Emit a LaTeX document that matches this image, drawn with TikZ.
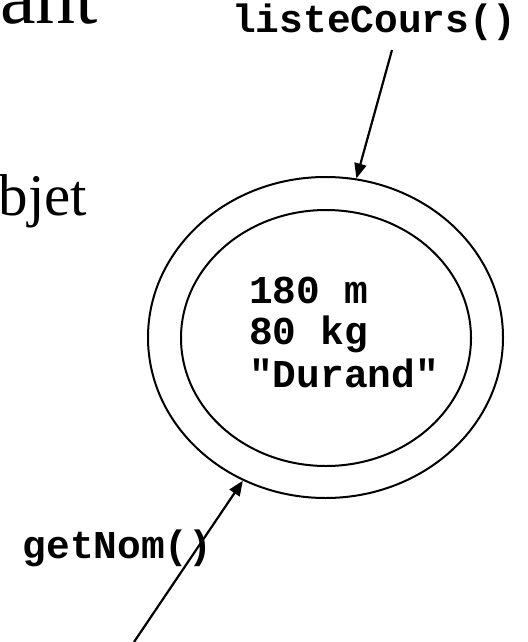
\documentclass[tikz,border=0pt]{standalone}
\usepackage{fontspec}
\setmainfont{Liberation Serif}
\newfontfamily\courfont{Liberation Mono}
\usetikzlibrary{arrows.meta,shapes.geometric}
\begin{document}
\begin{tikzpicture}[x=1pt,y=-1pt,
  code/.style={font=\courfont\bfseries\fontsize{39.5}{42}\selectfont, inner sep=0pt, anchor=base west},
  slide/.style={inner sep=0pt},
  ring/.style={draw, ellipse, line width=2pt, inner sep=0pt},
  call/.style={line width=2.2pt, -{Triangle[length=15pt,width=12pt]}}]
\useasboundingbox (0,0) rectangle (527,642);
\clip (0,0) rectangle (527,642);
% clipped slide text
\node[slide, anchor=base east, font=\fontsize{80}{86}\selectfont] (ant) at (98,24) {ant};
\node[slide, anchor=base west, font=\fontsize{59}{64}\selectfont] (bjet) at (-1.5,215) {bjet};
% object
\node[ring, minimum width=355pt, minimum height=321pt] (outer) at (325.5,337.5) {};
\node[ring, minimum width=290pt, minimum height=256pt] (inner) at (326,338) {};
\node[code] (d1) at (249,303) {180 m};
\node[code] (d2) at (249,344.5) {80 kg};
\node[code] (d3) at (249,387) {"Durand"};
% messages
\node[code] (lc) at (232,33) {listeCours()};
\node[code] (gn) at (22.5,558) {getNom()};
\coordinate (lcfrom) at (392,50);
\coordinate (gnfrom) at (134,642);
\draw[call] (lcfrom) -- (outer.79);
\draw[call] (gnfrom) -- (outer.240.6);
\end{tikzpicture}
\end{document}
